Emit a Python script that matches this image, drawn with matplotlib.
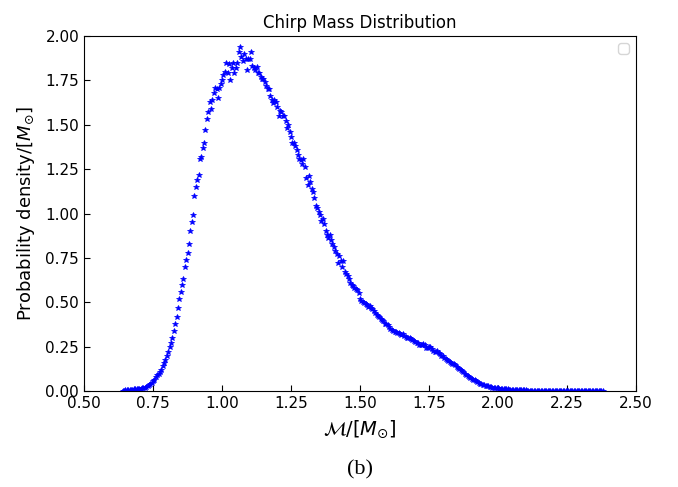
import numpy as np
import matplotlib
matplotlib.use("Agg")
import matplotlib.pyplot as plt

# histogram bin grid (chirp mass, solar masses)
mass_lo = 0.64
mass_hi = 2.38

# probability density per bin (rows of 0.05 in mass)
density = [
    0.002, 0.003, 0.004, 0.005, 0.006, 0.006, 0.007, 0.008, 0.009, 0.010,
    0.011, 0.012, 0.013, 0.014, 0.016, 0.018, 0.020, 0.024, 0.028, 0.034,
    0.040, 0.048, 0.056, 0.065, 0.078, 0.090, 0.098, 0.108, 0.118, 0.140,
    0.158, 0.176, 0.196, 0.220, 0.248, 0.272, 0.300, 0.340, 0.380, 0.420,
    0.470, 0.520, 0.560, 0.600, 0.630, 0.700, 0.740, 0.780, 0.830, 0.900,
    0.950, 0.990, 1.100, 1.150, 1.190, 1.215, 1.310, 1.320, 1.370, 1.400,
    1.470, 1.530, 1.570, 1.630, 1.590, 1.640, 1.680, 1.710, 1.700, 1.650,
    1.710, 1.730, 1.750, 1.780, 1.800, 1.850, 1.790, 1.840, 1.750, 1.820,
    1.850, 1.790, 1.820, 1.850, 1.910, 1.940, 1.880, 1.860, 1.900, 1.870,
    1.810, 1.870, 1.870, 1.910, 1.830, 1.820, 1.810, 1.825, 1.790, 1.790,
    1.770, 1.760, 1.760, 1.740, 1.720, 1.700, 1.700, 1.660, 1.640, 1.620,
    1.640, 1.630, 1.600, 1.550, 1.580, 1.570, 1.550, 1.550, 1.520, 1.480,
    1.500, 1.460, 1.430, 1.400, 1.400, 1.380, 1.360, 1.330, 1.310, 1.300,
    1.280, 1.310, 1.260, 1.200, 1.160, 1.210, 1.180, 1.140, 1.120, 1.090,
    1.040, 1.030, 1.010, 0.990, 0.960, 0.970, 0.940, 0.900, 0.880, 0.860,
    0.880, 0.850, 0.830, 0.810, 0.790, 0.770, 0.720, 0.760, 0.730, 0.700,
    0.730, 0.670, 0.660, 0.650, 0.630, 0.610, 0.600, 0.590, 0.580, 0.575,
    0.570, 0.550, 0.520, 0.510, 0.500, 0.495, 0.490, 0.485, 0.475, 0.480,
    0.470, 0.460, 0.450, 0.440, 0.430, 0.425, 0.415, 0.405, 0.400, 0.395,
    0.380, 0.375, 0.370, 0.360, 0.350, 0.345, 0.340, 0.335, 0.330, 0.325,
    0.325, 0.322, 0.318, 0.320, 0.310, 0.302, 0.300, 0.298, 0.300, 0.295,
    0.285, 0.280, 0.278, 0.272, 0.270, 0.262, 0.260, 0.262, 0.265, 0.258,
    0.245, 0.240, 0.250, 0.246, 0.236, 0.228, 0.222, 0.220, 0.225, 0.215,
    0.208, 0.200, 0.195, 0.188, 0.182, 0.175, 0.170, 0.166, 0.160, 0.155,
    0.150, 0.145, 0.138, 0.132, 0.125, 0.118, 0.112, 0.105, 0.098, 0.092,
    0.086, 0.080, 0.075, 0.070, 0.064, 0.060, 0.055, 0.050, 0.046, 0.042,
    0.040, 0.036, 0.033, 0.031, 0.028, 0.026, 0.024, 0.022, 0.020, 0.019,
    0.018, 0.016, 0.015, 0.014, 0.013, 0.012, 0.011, 0.010, 0.009, 0.009,
    0.008, 0.008, 0.007, 0.007, 0.006, 0.006, 0.005, 0.005, 0.005, 0.004,
    0.004, 0.004, 0.004, 0.003, 0.003, 0.003, 0.003, 0.003, 0.002, 0.002,
    0.002, 0.002, 0.002, 0.002, 0.002, 0.002, 0.001, 0.002, 0.001, 0.001,
    0.001, 0.002, 0.001, 0.001, 0.001, 0.001, 0.001, 0.001, 0.001, 0.001,
    0.001, 0.001, 0.001, 0.001, 0.001, 0.001, 0.001, 0.000, 0.001, 0.001,
    0.000, 0.001, 0.000, 0.000, 0.001, 0.000, 0.000, 0.000, 0.000, 0.000,
    0.000, 0.000, 0.000, 0.000, 0.000, 0.000, 0.000, 0.000, 0.000,
]
mass = np.linspace(mass_lo, mass_hi, len(density))

xticks = [0.50, 0.75, 1.00, 1.25, 1.50, 1.75, 2.00, 2.25, 2.50]
yticks = [0.00, 0.25, 0.50, 0.75, 1.00, 1.25, 1.50, 1.75, 2.00]

fig = plt.figure(figsize=(6.78, 4.87), dpi=100)
ax = fig.add_axes([0.124, 0.197, 0.814, 0.729])

ax.plot(mass, density, linestyle="none", marker="*", markersize=4,
        color="blue", markeredgewidth=0.5)

ax.set_xlim(0.5, 2.5)
ax.set_ylim(0.0, 2.0)
ax.set_xticks(xticks)
ax.set_yticks(yticks)
ax.set_xticklabels([f"{t:.2f}" for t in xticks])
ax.set_yticklabels([f"{t:.2f}" for t in yticks])
ax.tick_params(direction="in", labelsize=11, length=4)

ax.set_title("Chirp Mass Distribution", fontsize=12)
ax.set_xlabel(r"$\mathcal{M}/[M_{\odot}]$", fontsize=14, labelpad=5)
ax.set_ylabel(r"Probability density/[$M_{\odot}$]", fontsize=13, labelpad=6)
ax.legend(handles=[], loc="upper right")

fig.text(0.531, 0.035, "(b)", fontsize=16, family="Liberation Serif",
         ha="center", va="center")

fig.savefig("out.png", dpi=100)
